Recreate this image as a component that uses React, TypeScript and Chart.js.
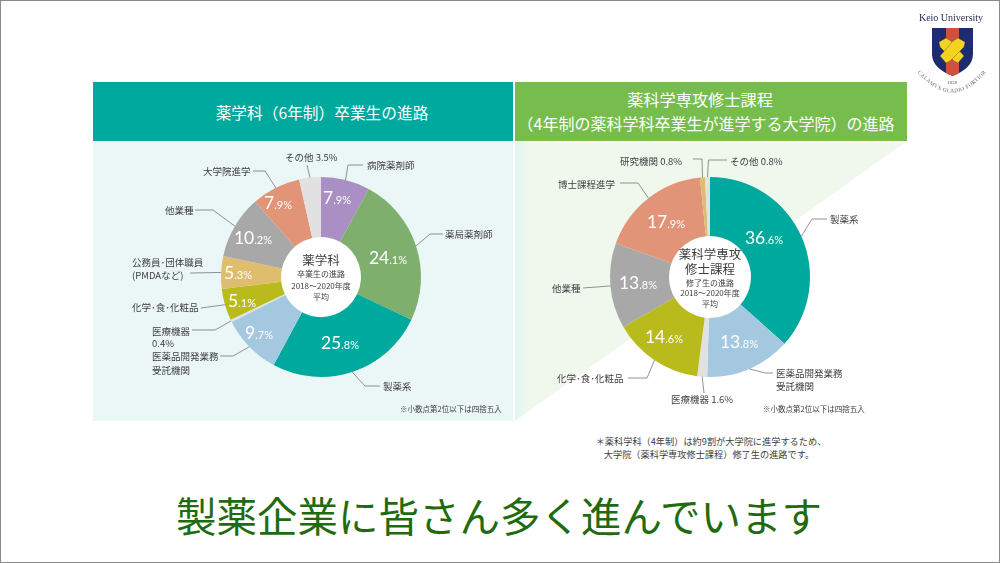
import React, { useEffect, useRef } from "react";
import { Chart, ArcElement, DoughnutController } from "chart.js";

Chart.register(ArcElement, DoughnutController);

const JP = '"Noto Sans CJK JP", "Noto Sans", sans-serif';
const NUM = 'Lato, "Noto Sans", sans-serif';

const PURPLE = "#A98FC4", GREEN = "#7FAF6C", TEAL = "#00A99D", BLUE = "#A5C8E1", PALE = "#E1E1E1";
const OLIVE = "#B9BB1D", YELLOW = "#DFBD6E", GREY = "#A8A8A8", SALMON = "#E29478", TEXT = "#3E3E3E";

// Left doughnut
const leftCategories = ["病院薬剤師", "薬局薬剤師", "製薬系", "医薬品開発業務受託機関", "医療機器", "化学・食・化粧品", "公務員・団体職員(PMDAなど)", "他業種", "大学院進学", "その他"];
const leftValues = [7.9, 24.1, 25.8, 9.7, 0.4, 5.1, 5.3, 10.2, 7.9, 3.5];
const leftColors = [PURPLE, GREEN, TEAL, BLUE, PALE, OLIVE, YELLOW, GREY, SALMON, PALE];
const leftCenter = [
  { t: "薬学科", y: -17, s: 12.5 },
  { t: "卒業生の進路", y: -3, s: 8 },
  { t: "2018〜2020年度", y: 9, s: 8 },
  { t: "平均", y: 20, s: 8 },
];
// value label offset from chart centre; null = value is not written on the slice
const leftValueAt: ([number, number] | null)[] = [[16, -79], [67, -19], [19, 66], [-62, 56], null, [-79, 24], [-83, -4], [-68, -39], [-43, -74], null];
// leader: bends after the slice edge, page pixels
const leftLeaders = [
  [[348, 165], [363, 165]],
  [[430, 234], [443, 234]],
  [[365, 386], [380, 386]],
  [[233, 356], [220, 356]],
  [[215, 330], [192, 330]],
  [[201, 308]],
  [[190, 273]],
  [[213, 210], [195, 210]],
  [[265, 171], [253, 171]],
  [[307, 165]],
];
const leftTexts = [
  { lines: ["病院薬剤師"], x: 367, y: 165 },
  { lines: ["薬局薬剤師"], x: 445, y: 234 },
  { lines: ["製薬系"], x: 383, y: 386 },
  { lines: ["医薬品開発業務", "受託機関"], x: 152, y: 356, gap: 14 },
  { lines: ["医療機器", "0.4%"], x: 152, y: 331, gap: 12 },
  { lines: ["化学･食･化粧品"], x: 132, y: 307 },
  { lines: ["公務員･団体職員", "(PMDAなど)"], x: 132, y: 262, gap: 13 },
  { lines: ["他業種"], x: 165, y: 210 },
  { lines: ["大学院進学"], x: 203, y: 171 },
  { lines: ["その他 3.5%"], x: 285, y: 157 },
];

// Right doughnut
const rightCategories = ["製薬系", "医薬品開発業務受託機関", "医療機器", "化学・食・化粧品", "他業種", "博士課程進学", "研究機関", "その他"];
const rightValues = [36.6, 13.8, 1.6, 14.6, 13.8, 17.9, 0.8, 0.8];
const rightColors = [TEAL, BLUE, PALE, OLIVE, GREY, SALMON, YELLOW, PALE];
const rightCenter = [
  { t: "薬科学専攻", y: -23, s: 12.5 },
  { t: "修士課程", y: -8, s: 12.5 },
  { t: "修了生の進路", y: 6, s: 8 },
  { t: "2018〜2020年度", y: 16, s: 8 },
  { t: "平均", y: 27, s: 8 },
];
const rightValueAt: ([number, number] | null)[] = [[54, -39], [29, 65], null, [-46, 60], [-72, 6], [-44, -55], null, null];
const rightLeaders = [
  [[812, 219], [827, 219]],
  [[765, 373], [773, 373]],
  [[704, 393]],
  [[647, 378], [628, 378]],
  [[583, 288]],
  [[638, 183], [620, 183]],
  [[702, 159], [693, 159]],
  [[708.5, 160], [727, 160]],
];
const rightTexts = [
  { lines: ["製薬系"], x: 830, y: 219 },
  { lines: ["医薬品開発業務", "受託機関"], x: 776, y: 373, gap: 13 },
  { lines: ["医療機器 1.6%"], x: 671, y: 399 },
  { lines: ["化学･食･化粧品"], x: 557, y: 378 },
  { lines: ["他業種"], x: 552, y: 288 },
  { lines: ["博士課程進学"], x: 558, y: 184 },
  { lines: ["研究機関 0.8%"], x: 620, y: 161 },
  { lines: ["その他 0.8%"], x: 730, y: 161 },
];

type Side = {
  categories: string[]; values: number[]; colors: string[]; cut: string;
  center: { t: string; y: number; s: number }[];
  valueAt: ([number, number] | null)[];
  leaders: number[][][];
  texts: { lines: string[]; x: number; y: number; gap?: number }[];
  box: { x: number; y: number; w: number; h: number };
  pad: { left: number; right: number; top: number; bottom: number };
  note: { t: string; x: number; y: number };
};

const sides: Side[] = [
  {
    categories: leftCategories, values: leftValues, colors: leftColors, cut: "40%",
    center: leftCenter, valueAt: leftValueAt, leaders: leftLeaders, texts: leftTexts,
    box: { x: 93, y: 141, w: 420, h: 280 },
    pad: { left: 128, right: 92, top: 36, bottom: 44 },
    note: { t: "※小数点第2位以下は四捨五入", x: 400, y: 409 },
  },
  {
    categories: rightCategories, values: rightValues, colors: rightColors, cut: "41%",
    center: rightCenter, valueAt: rightValueAt, leaders: rightLeaders, texts: rightTexts,
    box: { x: 515, y: 141, w: 392, h: 280 },
    pad: { left: 95, right: 97, top: 36, bottom: 44 },
    note: { t: "※小数点第2位以下は四捨五入", x: 763, y: 409 },
  },
];

function Donut({ side }: { side: Side }) {
  const ref = useRef<HTMLCanvasElement>(null);
  useEffect(() => {
    const { box } = side;
    const decorate = {
      id: "decorate",
      beforeDatasetsDraw(chart: any) {
        const arc = chart.getDatasetMeta(0).data[0];
        const ctx = chart.ctx;
        ctx.save();
        ctx.fillStyle = "#fff";
        ctx.beginPath();
        ctx.arc(arc.x, arc.y, arc.innerRadius, 0, Math.PI * 2);
        ctx.fill();
        ctx.restore();
      },
      afterDraw(chart: any) {
        const ctx = chart.ctx;
        const arcs = chart.getDatasetMeta(0).data;
        ctx.save();
        ctx.textBaseline = "middle";
        // leaders
        ctx.strokeStyle = "#777";
        ctx.lineWidth = 0.8;
        arcs.forEach((a: any, i: number) => {
          const mid = (a.startAngle + a.endAngle) / 2;
          ctx.beginPath();
          ctx.moveTo(a.x + Math.cos(mid) * a.outerRadius, a.y + Math.sin(mid) * a.outerRadius);
          side.leaders[i].forEach((p) => ctx.lineTo(p[0] - box.x, p[1] - box.y));
          ctx.stroke();
        });
        // category labels
        ctx.fillStyle = TEXT;
        ctx.textAlign = "left";
        ctx.font = `9.5px ${JP}`;
        side.texts.forEach((t) => {
          t.lines.forEach((line, k) => ctx.fillText(line, t.x - box.x, t.y - box.y + k * (t.gap || 0)));
        });
        ctx.font = `7.5px ${JP}`;
        ctx.fillText(side.note.t, side.note.x - box.x, side.note.y - box.y);
        // centre text
        ctx.textAlign = "center";
        side.center.forEach((c) => {
          ctx.font = `${c.s}px ${JP}`;
          ctx.fillText(c.t, arcs[0].x, arcs[0].y + c.y);
        });
        // values on slices
        ctx.fillStyle = "#fff";
        ctx.textAlign = "left";
        side.values.forEach((v, i) => {
          const at = side.valueAt[i];
          if (!at) return;
          const [whole, dec] = v.toFixed(1).split(".");
          const big = whole, small = `.${dec}%`;
          ctx.font = `17.5px ${NUM}`;
          const w1 = ctx.measureText(big).width;
          ctx.font = `11px ${NUM}`;
          const w2 = ctx.measureText(small).width;
          const x0 = arcs[0].x + at[0] - (w1 + w2) / 2;
          const y0 = arcs[0].y + at[1];
          ctx.textBaseline = "alphabetic";
          ctx.font = `17.5px ${NUM}`;
          ctx.fillText(big, x0, y0 + 6);
          ctx.font = `11px ${NUM}`;
          ctx.fillText(small, x0 + w1, y0 + 6);
          ctx.textBaseline = "middle";
        });
        ctx.restore();
      },
    };
    const chart = new Chart(ref.current as HTMLCanvasElement, {
      type: "doughnut",
      data: {
        labels: side.categories,
        datasets: [{ data: side.values, backgroundColor: side.colors, borderWidth: 0 }],
      },
      options: {
        responsive: false,
        animation: false,
        cutout: side.cut,
        layout: { padding: side.pad },
        plugins: { legend: { display: false }, tooltip: { enabled: false } },
      } as any,
      plugins: [decorate],
    });
    return () => chart.destroy();
  }, [side]);
  return (
    <canvas
      ref={ref}
      width={side.box.w}
      height={side.box.h}
      style={{ position: "absolute", left: side.box.x, top: side.box.y, width: side.box.w, height: side.box.h }}
    />
  );
}

const line = (x: number, y: number, s: number, c: string, t: string) => (
  <div
    style={{
      position: "absolute", left: x - 500, width: 1000, top: y - s, height: s * 2, lineHeight: `${s * 2}px`,
      textAlign: "center", fontSize: s, color: c, fontFamily: JP, whiteSpace: "nowrap",
    }}
  >
    {t}
  </div>
);

function Crest() {
  return (
    <svg width={1000} height={563} style={{ position: "absolute", left: 0, top: 0 }}>
      <text x={951} y={21} textAnchor="middle" fontFamily="Liberation Serif" fontSize={10} fill="#2a2f55">Keio University</text>
      <clipPath id="sh">
        <path d="M932 28 H973 V54 Q973 68 952.5 76 Q932 68 932 54 Z" />
      </clipPath>
      <g clipPath="url(#sh)">
        <rect x={932} y={28} width={41} height={48} fill="#1C2C6E" />
        <rect x={946} y={28} width={13} height={48} fill="#D2503F" />
      </g>
      <path d="M939 42 L946 38 L951 41 L964 56 L958 63 L954 61 L940 47 Z" fill="#F4D21F" stroke="#1C2C6E" strokeWidth={0.3} />
      <path d="M965 42 L958 38 L953 41 L940 56 L946 63 L950 61 L964 47 Z" fill="#F4D21F" stroke="#1C2C6E" strokeWidth={0.3} />
      <text x={952} y={84} textAnchor="middle" fontFamily="Liberation Serif" fontSize={5} fill="#555">1858</text>
      <path id="motto" d="M915 69 Q952 116 989 69" fill="none" />
      <text fontFamily="Liberation Serif" fontSize={5.5} fill="#666" letterSpacing={0.4}>
        <textPath href="#motto" startOffset="50%" textAnchor="middle">CALAMVS GLADIO FORTIOR</textPath>
      </text>
    </svg>
  );
}

export default function App() {
  return (
    <div
      style={{
        position: "fixed", left: 0, top: 0, width: 1000, height: 563, background: "#fff", overflow: "hidden",
        boxSizing: "border-box",
      }}
    >
      <div style={{ position: "absolute", left: 93, top: 82, width: 420, height: 59, background: "#00A99D" }} />
      <div style={{ position: "absolute", left: 93, top: 141, width: 420, height: 280, background: "#EAF7F6" }} />
      <div style={{ position: "absolute", left: 515, top: 82, width: 392, height: 59, background: "#76BD4E" }} />
      <div
        style={{
          position: "absolute", left: 515, top: 141, width: 392, height: 280,
          background: "linear-gradient(to right, #E3F5F3 0px, #F0F8EE 14px)",
          clipPath: "polygon(0 0, 100% 0, 0 100%)",
        }}
      />
      {line(322, 113, 15.7, "#fff", "薬学科（6年制）卒業生の進路")}
      {line(700, 99, 16.2, "#fff", "薬科学専攻修士課程")}
      {line(706, 123, 16, "#fff", "（4年制の薬科学科卒業生が進学する大学院）の進路")}
      {sides.map((s, i) => <Donut key={i} side={s} />)}
      {line(711, 441, 9.2, "#3E3E3E", "＊薬科学科（4年制）は約9割が大学院に進学するため、")}
      {line(709, 454, 9.2, "#3E3E3E", "大学院（薬科学専攻修士課程）修了生の進路です。")}
      {line(499, 514, 40.5, "#1F6B0F", "製薬企業に皆さん多く進んでいます")}
      <Crest />
      <div style={{ position: "absolute", inset: 0, border: "1px solid #8a8a8a", boxSizing: "border-box", pointerEvents: "none" }} />
    </div>
  );
}
